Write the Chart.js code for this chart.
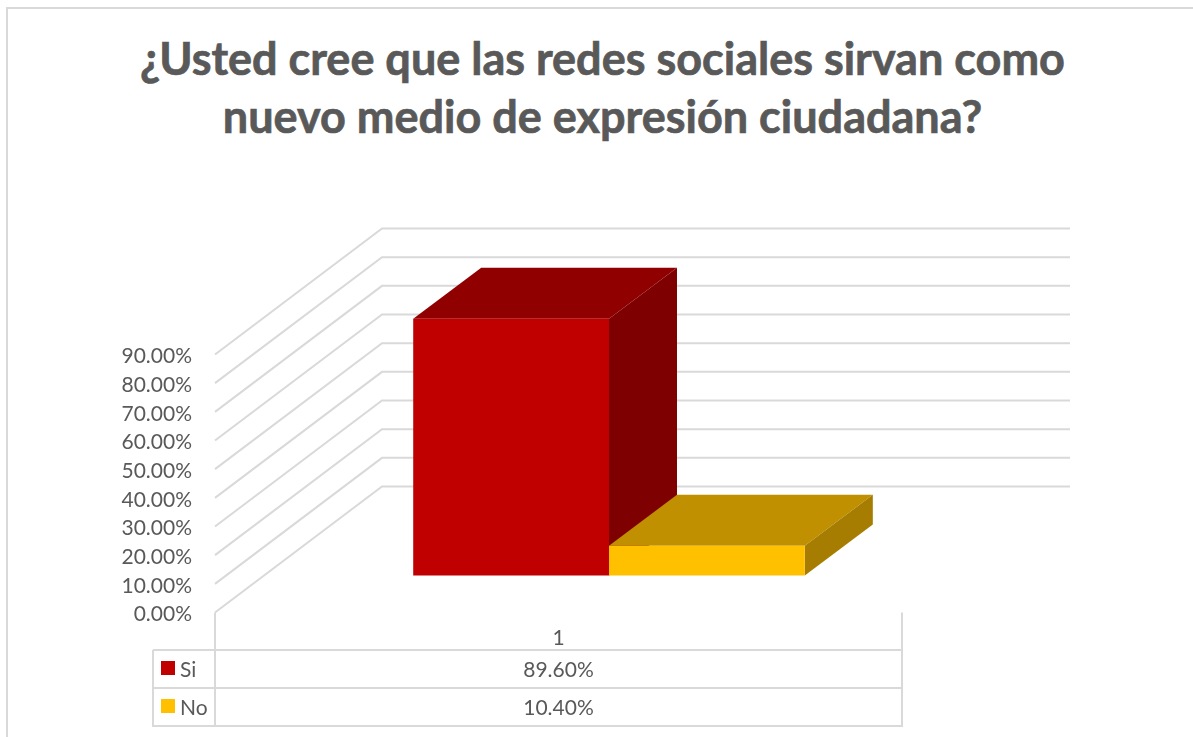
<!DOCTYPE html>
<html lang="es">
<head>
    <meta charset="UTF-8">
    <title>Redes sociales</title>
    <script src="https://cdn.jsdelivr.net/npm/chart.js"></script>
    <style>
        html, body {
            margin: 0;
            padding: 0;
            background: #fff;
            overflow: hidden;
        }

        .frame {
            position: absolute;
            left: 6px;
            top: 7px;
            width: 1193px;
            height: 737px;
            border-left: 2px solid #d9d9d9;
            border-top: 2px solid #d9d9d9;
        }

        h1 {
            position: absolute;
            left: 0;
            top: 29px;
            width: 1205px;
            margin: 0;
            text-align: center;
            font: bold 45px/58px Lato, sans-serif;
            -webkit-text-stroke: 0.7px #595959;
            color: #595959;
        }

        #chart {
            position: absolute;
            left: 0;
            top: 0;
        }
    </style>
</head>
<body>
<div class="frame"></div>
<h1>¿Usted cree que las redes sociales sirvan como<br>nuevo medio de expresión ciudadana?</h1>
<canvas id="chart" width="1193" height="737"></canvas>
<script>
    const categories = ['1'];
    const seriesNames = ['Si', 'No'];
    const siValues = [89.6];
    const noValues = [10.4];
    const frontColors = ['#c00000', '#ffc000'];
    const topColors = ['#900000', '#c09000'];
    const sideColors = ['#7f0000', '#a67d00'];

    const gridColor = '#d9d9d9';
    const textColor = '#595959';
    const font = '21px Lato, sans-serif';

    // how far the back wall and the bars are pushed into the "3D" depth
    const wall = {dx: 167, dy: -126};
    const barShift = {dx: 50.5, dy: -37};
    const barDepth = {dx: 68, dy: -51};

    function line(ctx, x1, y1, x2, y2) {
        ctx.beginPath();
        ctx.moveTo(x1, y1);
        ctx.lineTo(x2, y2);
        ctx.stroke();
    }

    function face(ctx, color, pts) {
        ctx.fillStyle = color;
        ctx.beginPath();
        pts.forEach((p, i) => i ? ctx.lineTo(p[0], p[1]) : ctx.moveTo(p[0], p[1]));
        ctx.closePath();
        ctx.fill();
    }

    const fake3d = {
        id: 'fake3d',
        beforeDatasetsDraw(chart) {
            const ctx = chart.ctx;
            const area = chart.chartArea;
            const yScale = chart.scales.y;

            // side wall and back wall gridlines
            ctx.save();
            ctx.strokeStyle = gridColor;
            ctx.lineWidth = 2;
            yScale.ticks.forEach(t => {
                const y = yScale.getPixelForValue(t.value);
                ctx.beginPath();
                ctx.moveTo(area.left, y);
                ctx.lineTo(area.left + wall.dx, y + wall.dy);
                ctx.lineTo(area.right + wall.dx + 1, y + wall.dy);
                ctx.stroke();
            });
            ctx.restore();

            // top and side faces of every bar, front faces come from the library
            ctx.save();
            ctx.translate(barShift.dx, barShift.dy);
            chart.data.datasets.forEach((ds, i) => {
                const bar = chart.getDatasetMeta(i).data[0];
                const l = bar.x - bar.width / 2;
                const r = bar.x + bar.width / 2;
                const d = barDepth;
                face(ctx, topColors[i], [[l, bar.y], [r, bar.y], [r + d.dx, bar.y + d.dy], [l + d.dx, bar.y + d.dy]]);
                face(ctx, sideColors[i], [[r, bar.y], [r + d.dx, bar.y + d.dy], [r + d.dx, bar.base + d.dy], [r, bar.base]]);
            });
            // stays translated for the dataset drawing, undone in afterDatasetsDraw
        },
        afterDatasetsDraw(chart) {
            chart.ctx.restore();
        },
        afterDraw(chart) {
            const ctx = chart.ctx;
            const area = chart.chartArea;
            const xScale = chart.scales.x;
            const keyLeft = 153;
            const rowTop = 650;
            const rowH = 38;
            const rows = [siValues, noValues];

            ctx.save();
            ctx.strokeStyle = gridColor;
            ctx.lineWidth = 2;
            const tableBottom = rowTop + rowH * rows.length;
            line(ctx, area.left, area.bottom, area.left, tableBottom + 1);
            line(ctx, area.right, area.bottom, area.right, tableBottom + 1);
            line(ctx, keyLeft, rowTop, keyLeft, tableBottom + 1);
            for (let i = 0; i <= rows.length; i++) {
                line(ctx, keyLeft, rowTop + rowH * i, area.right + 1, rowTop + rowH * i);
            }

            ctx.font = font;
            ctx.textBaseline = 'middle';
            rows.forEach((values, i) => {
                const mid = rowTop + rowH * i + 19;
                ctx.fillStyle = frontColors[i];
                ctx.fillRect(keyLeft + 8, mid - 8, 14, 14);
                ctx.fillStyle = textColor;
                ctx.textAlign = 'left';
                ctx.fillText(seriesNames[i], keyLeft + 27, mid + 1);
                ctx.textAlign = 'center';
                ctx.fillText(values[0].toFixed(2) + '%', xScale.getPixelForValue(0), mid + 1);
            });
            ctx.restore();
        }
    };

    new Chart(document.getElementById('chart').getContext('2d'), {
        type: 'bar',
        data: {
            labels: categories,
            datasets: [
                {label: seriesNames[0], data: siValues, backgroundColor: frontColors[0], clip: false},
                {label: seriesNames[1], data: noValues, backgroundColor: frontColors[1], clip: false}
            ]
        },
        options: {
            responsive: false,
            animation: false,
            layout: {padding: {top: 354.5, right: 291}},
            datasets: {bar: {barPercentage: 1, categoryPercentage: 0.57}},
            plugins: {
                legend: {display: false},
                tooltip: {enabled: false}
            },
            scales: {
                x: {
                    grid: {display: false},
                    border: {display: false},
                    ticks: {color: textColor, font: {family: 'Lato', size: 21}, padding: 5},
                    afterFit(scale) { scale.height = 124.5; }
                },
                y: {
                    min: 0,
                    max: 90,
                    grid: {display: false},
                    border: {display: false},
                    ticks: {
                        stepSize: 10,
                        color: textColor,
                        font: {family: 'Lato', size: 21},
                        padding: 15,
                        labelOffset: 2,
                        callback: v => v.toFixed(2) + '%'
                    },
                    afterFit(scale) { scale.width = 215; }
                }
            }
        },
        plugins: [fake3d]
    });
</script>
</body>
</html>
